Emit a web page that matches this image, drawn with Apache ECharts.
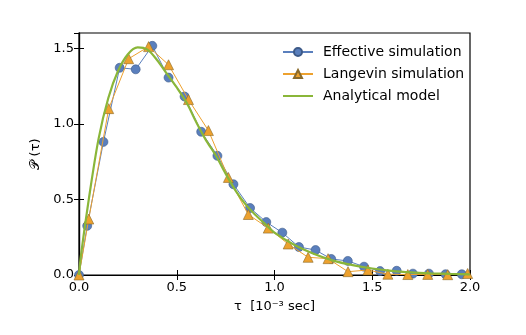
<!DOCTYPE html>
<html>
<head>
<meta charset="utf-8">
<script src="https://cdn.jsdelivr.net/npm/echarts@6/dist/echarts.min.js"></script>
<style>
  html, body { margin: 0; padding: 0; background: #fff; }
  #chart { width: 526px; height: 335px; }
</style>
</head>
<body>
<div id="chart"></div>
<script>
// effective simulation (circles)
var effX = [0, 0.042, 0.125, 0.208, 0.29, 0.375, 0.458, 0.54, 0.625, 0.708, 0.79, 0.875, 0.958,
  1.04, 1.125, 1.21, 1.29, 1.375, 1.458, 1.54, 1.625, 1.708, 1.79, 1.875, 1.958]
var effY = [0, 0.325, 0.88, 1.37, 1.36, 1.515, 1.305, 1.18, 0.947, 0.788, 0.60, 0.443, 0.35,
  0.28, 0.185, 0.165, 0.106, 0.093, 0.055, 0.026, 0.028, 0.009, 0.009, 0.005, 0.005]

// langevin simulation (triangles)
var lanX = [0, 0.05, 0.152, 0.254, 0.356, 0.458, 0.56, 0.662, 0.764, 0.866, 0.968, 1.07,
  1.172, 1.274, 1.376, 1.478, 1.58, 1.682, 1.784, 1.886, 1.988]
var lanY = [0, 0.37, 1.10, 1.43, 1.51, 1.39, 1.16, 0.955, 0.645, 0.40, 0.31, 0.205,
  0.117, 0.108, 0.022, 0.033, 0.005, 0.003, 0.004, 0.002, 0.01]

// analytical model (curve)
var anaX = [0, 0.01, 0.05, 0.1, 0.15, 0.2, 0.25, 0.3, 0.35, 0.4, 0.45, 0.5, 0.55, 0.6, 0.65,
  0.7, 0.75, 0.8, 0.85, 0.9, 0.95, 1.0, 1.1, 1.2, 1.3, 1.4, 1.5, 1.6, 1.7, 1.8, 1.9, 2.0]
var anaY = [0, 0.13, 0.50, 0.90, 1.17, 1.35, 1.46, 1.505, 1.49, 1.42, 1.33, 1.24, 1.14, 1.01, 0.89,
  0.79, 0.67, 0.56, 0.47, 0.40, 0.34, 0.28, 0.20, 0.14, 0.095, 0.065, 0.043, 0.027, 0.017, 0.011, 0.007, 0.004]

var xTicks = [0, 0.5, 1.0, 1.5, 2.0]
var yTicks = [0, 0.5, 1.0, 1.5]

function pairs(xs, ys) {
  var out = []
  for (let i = 0; i < xs.length; i++) {
    out.push([xs[i], ys[i]])
  }
  return out
}

var chart = echarts.init(document.getElementById('chart'))
var font = 'DejaVu Sans'
var tickStyle = { show: true, inside: true, length: 5, lineStyle: { color: '#000', width: 1 } }

var option = {
  animation: false,
  textStyle: { fontFamily: font },
  grid: {
    left: 79,
    right: 56,
    top: 33,
    bottom: 60,
    show: true,
    borderColor: '#000',
    borderWidth: 1.2
  },
  legend: {
    orient: 'vertical',
    left: 282,
    top: 45,
    padding: 0,
    itemWidth: 30,
    itemHeight: 10,
    itemGap: 8,
    textStyle: { fontFamily: font, fontSize: 14, color: '#000', padding: [0, 0, 0, 5] },
    data: [
      'Effective simulation',
      'Langevin simulation',
      { name: 'Analytical model', icon: 'path://M0,0H30V2H0Z', itemStyle: { color: '#8ab639' } }
    ]
  },
  xAxis: [
    {
      type: 'value',
      min: 0,
      max: 2,
      interval: 0.5,
      name: 'τ  [10⁻³ sec]',
      nameLocation: 'middle',
      nameGap: 25,
      nameTextStyle: { fontFamily: font, fontSize: 13, color: '#000' },
      axisLine: { show: true, lineStyle: { color: '#000', width: 1.2 } },
      axisTick: tickStyle,
      splitLine: { show: false },
      axisLabel: {
        color: '#000',
        fontSize: 13,
        margin: 6,
        formatter: function (v) {
          return xTicks.indexOf(v) >= 0 ? v.toFixed(1) : ''
        }
      }
    },
    {
      type: 'value',
      position: 'top',
      min: 0,
      max: 2,
      interval: 0.5,
      axisLine: { show: true, lineStyle: { color: '#000', width: 1.2 } },
      axisTick: tickStyle,
      axisLabel: { show: false },
      splitLine: { show: false }
    }
  ],
  yAxis: [
    {
      type: 'value',
      min: 0,
      max: 1.6,
      interval: 0.5,
      name: '𝒫 (τ)',
      nameLocation: 'middle',
      nameGap: 30,
      nameRotate: 90,
      nameTextStyle: { fontFamily: font, fontSize: 13, color: '#000' },
      axisLine: { show: true, lineStyle: { color: '#000', width: 1.2 } },
      axisTick: tickStyle,
      splitLine: { show: false },
      axisLabel: {
        color: '#000',
        fontSize: 13,
        margin: 5,
        showMaxLabel: false,
        formatter: function (v) {
          return yTicks.indexOf(v) >= 0 ? v.toFixed(1) : ''
        }
      }
    },
    {
      type: 'value',
      position: 'right',
      min: 0,
      max: 1.6,
      interval: 0.5,
      axisLine: { show: true, lineStyle: { color: '#000', width: 1.2 } },
      axisTick: tickStyle,
      axisLabel: { show: false },
      splitLine: { show: false }
    }
  ],
  series: [
    {
      name: 'Effective simulation',
      type: 'line',
      data: pairs(effX, effY),
      symbol: 'circle',
      symbolSize: 9,
      z: 3,
      lineStyle: { color: '#5a7fbd', width: 1 },
      itemStyle: { color: '#5a7fbd', borderColor: '#3d5a88', borderWidth: 0.6 }
    },
    {
      name: 'Langevin simulation',
      type: 'line',
      data: pairs(lanX, lanY),
      symbol: 'triangle',
      symbolSize: 10,
      z: 4,
      lineStyle: { color: '#eda12e', width: 1 },
      itemStyle: { color: '#eda12e', borderColor: '#8a6a2a', borderWidth: 0.6 }
    },
    {
      name: 'Analytical model',
      type: 'line',
      data: pairs(anaX, anaY),
      smooth: 0.3,
      showSymbol: false,
      symbol: 'none',
      z: 5,
      lineStyle: { color: '#8ab639', width: 2.2 },
      itemStyle: { color: '#8ab639' }
    }
  ]
}
chart.setOption(option)
</script>
</body>
</html>
